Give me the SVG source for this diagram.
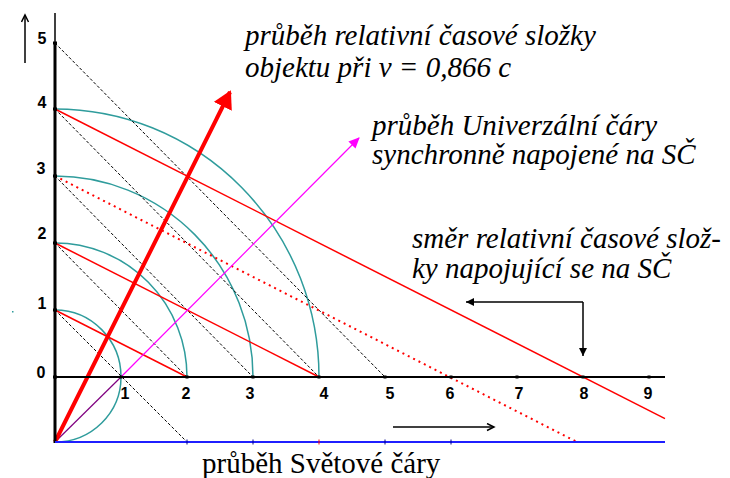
<svg xmlns="http://www.w3.org/2000/svg" width="730" height="478" viewBox="0 0 730 478">
<style>
.arc{fill:none;stroke:#2f9c9c;stroke-width:1.5}
.red{fill:none;stroke:#ff0000;stroke-width:1.5}
.reddot{fill:none;stroke:#ff0000;stroke-width:2;stroke-dasharray:2 4}
.dash{fill:none;stroke:#000;stroke-width:1;stroke-dasharray:3 2}
.thin{fill:none;stroke:#000;stroke-width:1.5}
.lbl{font-family:"Liberation Serif","Times New Roman",serif;font-size:29px;fill:#000}
.it{font-style:italic}
.num{font-family:"Liberation Sans",Arial,sans-serif;font-weight:bold;font-size:16px;fill:#000;text-anchor:middle}
</style>
<defs>
<marker id="ahRed" markerWidth="5" markerHeight="5" refX="4" refY="2.5" orient="auto" markerUnits="strokeWidth">
<path d="M0,0 L4.5,2.5 L0,5 Z" fill="#ff0000"/>
</marker>
<marker id="ahMag" markerWidth="12" markerHeight="10" refX="10" refY="5" orient="auto" markerUnits="userSpaceOnUse">
<path d="M0,0 L11,5 L0,10 Z" fill="#ff00ff"/>
</marker>
<marker id="ahBlk" markerWidth="10" markerHeight="10" refX="8" refY="4" orient="auto" markerUnits="userSpaceOnUse">
<path d="M0,0 L8,4 L0,8 Z" fill="#000"/>
</marker>
<marker id="ahOpen" markerWidth="10" markerHeight="10" refX="8" refY="4" orient="auto" markerUnits="userSpaceOnUse">
<path d="M1,0.5 L8,4 L1,7.5" fill="none" stroke="#000" stroke-width="1.5"/>
</marker>
</defs>
<rect width="730" height="478" fill="#fff"/>

<g id="circles">
<path class="arc" d="M55,310 A66,67 0 0 1 121,377 A66,65 0 0 1 55,442"/>
<path class="arc" d="M55,243 A132,134 0 0 1 187,377"/>
<path class="arc" d="M55,176 A198,201 0 0 1 253,377"/>
<path class="arc" d="M55,109 A264,268 0 0 1 319,377"/>
</g>

<g id="connectors">
<path class="dash" d="M55,43 L385,377"/>
<path class="dash" d="M55,109 L319,377"/>
<path class="dash" d="M55,176 L253,377"/>
<path class="dash" d="M55,243 L187,377"/>
<path class="dash" d="M55,310 L187,442"/>
<path class="red" d="M55,310 L187,377"/>
<path class="red" d="M55,243 L319,377"/>
<path class="red" d="M55,109 L665,418.6"/>
<path class="reddot" d="M55,176 L577,442"/>
<path d="M55,442 L121,377" stroke="#800080" stroke-width="1.2" fill="none"/>
<path d="M121,377 L359,138" stroke="#ff00ff" stroke-width="1.2" fill="none" marker-end="url(#ahMag)"/>
<path d="M55,442 L230,92" stroke="#ff0000" stroke-width="4" fill="none" marker-end="url(#ahRed)"/>
<path class="thin" d="M25,63 L25,15" marker-end="url(#ahOpen)"/>
<path class="thin" d="M583,302 L583,356" marker-end="url(#ahBlk)"/>
<path class="thin" d="M583,302 L466,302" marker-end="url(#ahBlk)"/>
<path class="thin" d="M393,427 L494,427" marker-end="url(#ahOpen)"/>
</g>

<g id="axes">
<path d="M55,13 L55,43" stroke="#000" stroke-width="1.5"/>
<path d="M55,43 L55,443" stroke="#000" stroke-width="3"/>
<path d="M55,377 L665,377" stroke="#000" stroke-width="2"/>
<path d="M55,442 L665,442" stroke="#1f1fff" stroke-width="2"/>
<g fill="#000">
<rect x="53" y="41.5" width="4" height="3"/>
<rect x="53" y="107.5" width="4" height="3"/>
<rect x="53" y="174.5" width="4" height="3"/>
<rect x="53" y="241.5" width="4" height="3"/>
<rect x="53" y="308.5" width="4" height="3"/>
<rect x="53" y="375.5" width="4" height="3"/>
<rect x="119.5" y="375.5" width="3" height="3"/>
<rect x="185.5" y="375.5" width="3" height="3"/>
<rect x="251.5" y="375.5" width="3" height="3"/>
<rect x="317.5" y="375.5" width="3" height="3"/>
<rect x="383.5" y="375.5" width="3" height="3"/>
<rect x="449.5" y="375.5" width="3" height="3"/>
<rect x="515.5" y="375.5" width="3" height="3"/>
<rect x="581.5" y="375.5" width="3" height="3"/>
<rect x="647.5" y="375.5" width="3" height="3"/>
</g>
<g stroke="#00008b" stroke-width="1">
<path d="M187,439.5 L187,444.5 M253,439.5 L253,444.5 M385,439.5 L385,444.5 M451,439.5 L451,444.5"/>
<path d="M319,439.5 L319,444.5" stroke="#ff0000"/>
</g>
<rect x="12" y="311" width="1.5" height="1.5" fill="#2f9c9c"/>
</g>

<g id="axis-labels">
<text class="num" x="42" y="44">5</text>
<text class="num" x="42" y="108">4</text>
<text class="num" x="41" y="174">3</text>
<text class="num" x="42" y="239">2</text>
<text class="num" x="42" y="309">1</text>
<text class="num" x="41" y="378">0</text>
<text class="num" x="125" y="399">1</text>
<text class="num" x="186" y="399">2</text>
<text class="num" x="250" y="399">3</text>
<text class="num" x="324" y="399">4</text>
<text class="num" x="390" y="399">5</text>
<text class="num" x="450" y="399">6</text>
<text class="num" x="519" y="399">7</text>
<text class="num" x="584" y="399">8</text>
<text class="num" x="648" y="399">9</text>
</g>

<g id="label-relative">
<text class="lbl it" x="245" y="45">průběh relativní časové složky</text>
<text class="lbl it" x="245" y="77">objektu při v = 0,866 c</text>
</g>
<g id="label-universal">
<text class="lbl it" x="372" y="135">průběh Univerzální čáry</text>
<text class="lbl it" x="372" y="164">synchronně napojené na SČ</text>
</g>
<g id="label-direction">
<text class="lbl it" x="412" y="248">směr relativní časové slož-</text>
<text class="lbl it" x="412" y="278">ky napojující se na SČ</text>
</g>
<g id="label-world">
<text class="lbl" x="202" y="473">průběh Světové čáry</text>
</g>
</svg>
